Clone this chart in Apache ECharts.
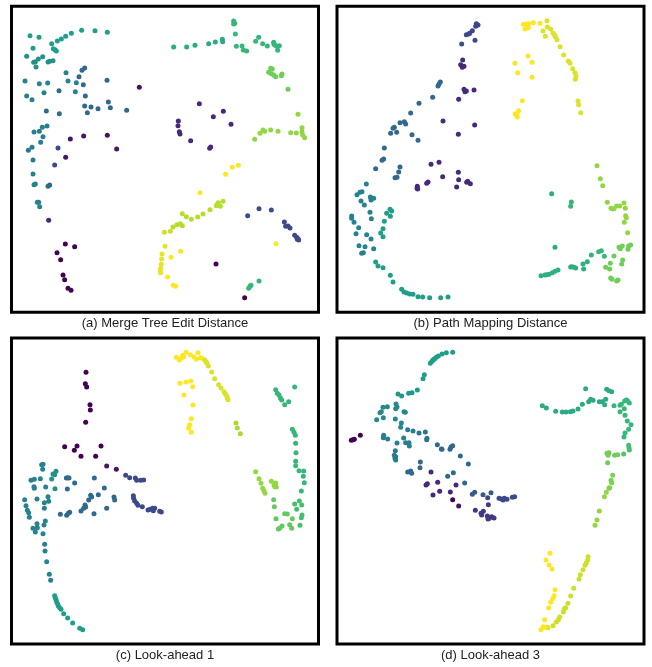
<!DOCTYPE html>
<html>
<head>
  <meta charset="utf-8">
  <style>
    html, body { margin: 0; padding: 0; background: #fff; }
    #main { width: 652px; height: 667px; }
  </style>
</head>
<body>
  <div id="main"></div>
<script src="https://cdn.jsdelivr.net/npm/echarts@6/dist/echarts.min.js"></script>
<script>
  // each point: [x, y, colour value 0..9 on viridis]
  var mergeTree = [
    [66,92,5],[93,97,5],[75,130,5],[131,116,5],[148,108,5],[160,102,5],[173,94,5],[190,85,5],[221,76,5],[261,77,5],[298,82,5],[136,131,5],[141,134,5],[145,138,5],
    [56,154,4.5],[104,155,4.5],[91,162,4.5],[82,170,4.5],[77,172,4.5],[84,186,4.5],[120,171,4.5],[125,169,4.5],[135,167,4.5],
    [174,203,4],[180,228,4],[205,233,4],[202,260,4],[51,228,4],[56,273,4],[72,284,4],[94,236,4],[119,234,4],[108,263,4],
    [222,196,3],[230,189,3],[213,215,3],[226,239,3],[232,273,3],[153,257,3],[230,303,3],[249,306,3],[270,311,3],[307,308,3],[301,291,3],[356,316,3],[238,323,3],[297,226,3],[154,326,3],[115,318,3],
    [78,381,3.8],[94,379,3.8],[103,367,3.8],[117,363,3.8],[105,395,3.8],[98,412,3.8],[72,427,3.8],[61,436,3.8],[75,465,3.8],
    [394,247,0.5],[187,402,0.5],[227,393,0.5],[298,391,0.5],[326,432,0.5],[173,457,0.5],[150,429,2],[140,480,2],
    [574,296,1],[616,335,1],[646,319,1],[669,358,1],[511,348,1],[510,362,1],[514,380,1],[516,387,1],[548,407,1],[605,430,1],[608,426,1],
    [497,126,5.5],[536,126,5.5],[561,121,5.5],[602,116,5.5],[622,111,5.5],[643,103,5.5],[644,110,5.5],
    [677,48,6],[680,55,6],[677,57,6],[682,87,6],[685,124,6],[702,123,6],[706,135,6],[716,138,6],[743,109,6],[752,97,6],[764,116,6],[778,123,6],[797,112,6],[798,118,6],[806,124,6],[814,122,6],[809,136,6],[802,121,6],
    [788,190,7],[793,192,7],[782,202,7],[790,206,7],[797,210,7],[803,215,7],[822,207,7],[820,212,7],[840,253,7],
    [870,328,7.5],[882,368,7.5],[882,380,7.5],[884,390,7.5],[890,398,7.5],[848,383,7.5],[865,384,7.5],[810,379,7.5],[788,375,7.5],[770,379,7.5],[765,375,7.5],[756,385,7.5],[740,403,7.5],
    [75,507,4],[78,539,4],[82,537,4],[88,592,4],[92,592,4],[95,605,4],[120,544,3],[125,540,3],[122,646,1],
    [172,717,0],[200,725,0],[147,743,0],[158,764,0],[165,810,0],[170,824,0],[180,850,0],[189,856,0],
    [691,481,9],[673,487,9],[653,508,9],[576,563,9],[804,716,9],[518,739,9],[489,757,9],[479,816,9],[496,841,9],[503,844,9],
    [471,724,8.7],[462,747,8.7],[461,762,8.7],[460,778,8.7],[458,790,8.7],[457,797,8.7],[458,803,8.7],[469,682,8.3],[487,679,8.3],
    [495,666,8],[507,659,8],[517,656,8],[523,662,8],[535,635,8],[523,626,8],[550,643,8],[569,636,8],[585,627,8],[606,614,8],[625,602,8],[631,593,8],[637,604,8],[645,589,8],[628,598,8],
    [719,632,2],[753,611,2],[790,615,2],[829,651,2],[833,664,2],[840,663,2],[846,669,2],[860,691,2],[866,697,2],[870,701,2],[872,705,2],[868,703,2],
    [624,777,0],[710,878,0],[753,828,6],[729,841,6],[722,850,6],[726,844,6]
  ];

  var pathMapping = [
    [430,56,2],[435,60,2],[428,64,2],[418,77,2],[410,85,2],[407,87,2],[400,89,2],[426,106,2],[386,117,2],
    [389,165,1],[383,179,1],[393,184,1],[388,187,1],
    [322,231,3],[318,237,3],[315,243,3],[299,277,3],[258,295,3],[233,324,3],[214,350,3],[218,357,3],[201,353,3],[184,367,3],[180,370,3],[173,385,3],[191,382,3],[237,389,3],[255,406,3],[154,429,3],[152,462,3],[147,466,3],
    [393,253,1],[396,260,1],[400,258,1],[423,255,1],[377,283,1],[330,348,1],[425,360,1],[376,388,1],[318,472,1],[294,478,1],
    [571,58,9],[580,57,9],[587,56,9],[583,64,9],[576,72,9],[586,68,9],[601,53,9],[621,55,9],[585,153,9],[597,172,9],[546,175,9],[554,203,9],[597,217,9],[568,287,9],[557,317,9],[547,326,9],[552,327,9],[553,336,9],[549,330,9],
    [642,47,8.5],[643,66,8.5],[630,78,8.5],[637,94,8.5],[653,72,8.5],[660,84,8.5],[665,91,8.5],[667,95,8.5],[672,104,8.5],[681,125,8.5],[692,150,8.5],[706,168,8.5],[711,175,8.5],[719,191,8.5],[726,203,8.5],[729,213,8.5],[727,223,8.5],[735,288,8.5],[737,299,8.5],[743,323,8.5],
    [128,491,3],[201,486,3],[197,501,3],[186,518,3],[192,517,3],[100,537,4],
    [329,515,1],[376,502,1],[377,524,1],[371,546,1],[401,532,1],[404,529,1],[412,536,1],[285,531,1],[281,535,1],[253,544,1],[252,550,1],[254,552,1],
    [72,569,4],[81,562,4],[87,560,4],[112,576,4],[117,580,4],[122,580,4],[114,585,4],[84,588,4],[94,600,4],[111,622,4],[56,633,4],[56,640,4],[63,652,4],[115,641,4],[77,668,4],[69,686,4],[101,689,4],[114,702,4],[78,722,4],[96,725,4],[91,743,4],[86,745,4],[122,731,4],
    [171,613,5],[176,618,5],[172,634,5],[161,625,5],[154,649,5],[150,671,5],[143,684,5],[150,695,5],[128,771,5],[135,783,5],[150,788,5],[172,811,5],[180,831,5],[206,853,5],[213,861,5],[221,864,5],[230,867,5],[240,868,5],[255,875,5],[269,876,5],[290,878,5],[323,878,5],[345,876,5],
    [656,566,5.5],[666,727,5.5],[715,591,6],[713,604,6],
    [792,482,7.5],[802,521,7.5],[809,542,7.5],[823,592,7.5],[834,610,7.5],[839,612,7.5],[843,611,7.5],[851,603,7.5],[860,603,7.5],[873,594,7.5],[877,610,7.5],[878,632,7.5],[880,638,7.5],[874,652,7.5],[884,683,7.5],
    [858,727,7],[862,731,7],[868,723,7],[885,733,7],[887,723,7],[893,720,7],[843,753,7],[869,765,7],[866,777,7],[832,775,7],[818,787,7],[830,792,7],[833,819,7],[837,823,7],[851,828,7],[855,825,7],
    [624,812,5.7],[636,810,5.7],[641,809,5.7],[648,808,5.7],[658,803,5.7],[666,799,5.7],[675,795,5.7],[713,786,5.7],[717,785,5.7],[723,787,5.7],[728,789,5.7],[752,792,5.7],[750,777,5.7],[763,770,5.7],[775,750,5.9],[797,740,6],[805,737,6],[814,754,6]
  ];

  var lookAhead1 = [
    [505,64,9],[514,72,9],[520,67,9],[524,58,9],[527,62,9],[534,49,9],[547,56,9],[558,63,9],[565,70,9],[570,50,9],[577,65,9],[583,67,9],[516,142,9],[534,138,9],[548,135,9],[554,152,9],[528,177,9],[555,207,9],[550,248,9],[545,266,9],[542,277,9],[550,289,9],
    [590,72,8.5],[594,77,8.5],[597,81,8.5],[601,90,8.5],[611,108,8.5],[620,128,8.5],[632,146,8.5],[639,156,8.5],[648,167,8.5],[652,173,8.5],[656,180,8.5],[658,186,8.5],[660,191,8.5],
    [684,261,7.8],[688,276,7.8],[697,293,7.8],
    [803,161,6],[808,172,6],[813,177,6],[817,186,6],[821,192,6],[830,206,6],[842,197,6],[860,153,6],[853,280,6],[858,289,6],[862,298,6],[863,322,6],[864,350,6],[863,376,6],[863,389,6],[873,404,6],[887,405,6],[886,421,6],[889,440,6],[880,465,6],
    [743,407,7.5],[753,428,7.5],[759,442,7.5],[764,457,7.5],[768,464,7.5],[790,436,7.5],[798,448,7.5],[801,452,7.5],[803,441,7.5],[805,453,7.5],
    [234,109,0],[232,143,0],[236,153,0],[246,206,0],[247,222,0],[233,259,0],[170,332,0],[207,330,0],[279,330,0],[199,343,0],[219,361,0],[263,361,0],[296,390,0.5],[325,400,0.5],
    [353,418,2],[365,425,2],[382,426,2],[386,433,2],[398,433,2],[407,432,2],
    [179,425,3],[175,426,3],[183,426,3],[200,441,3],[259,426,3],[289,456,3],[178,459,3],
    [101,386,4],[105,385,4],[104,400,4],[69,433,4],[79,430,4],[97,428,4],[78,452,4],[79,457,4],[113,453,4],[135,414,4.5],[144,406,4.5],[140,416,4.5],[131,429,4.5],[141,458,4.5],
    [50,491,4],[54,509,4],[58,523,4],[62,530,4],[64,544,4],[87,489,4],[109,500,4],[120,482,4],[122,496,4],[109,517,4],[75,577,4],[82,588,4],[88,575,4],[87,563,4],[108,567,4],[112,555,4],[105,593,4],[110,625,4],[111,645,4],[116,677,4],[124,715,4],[128,733,4],
    [140,779,5],[142,785,5],[144,791,5],[146,798,5],[149,804,5],[151,810,5],[155,815,5],[159,820,5],[167,833,5],[179,846,5],[194,861,5],[215,877,5],[224,881,5],
    [157,535,3],[176,538,3],[181,532,3],[185,529,3],[219,525,3],[227,517,3],[233,513,3],[231,507,3],[242,492,3],[248,478,3],[251,483,3],[271,476,3],[258,533,3],[296,517,3],[318,483,3],[320,492,3],
    [376,479,2],[377,487,2],[380,495,2],[386,502,2],[390,508,2],[403,512,2],[420,522,2],[427,520,2],[434,517,2],[440,517,2],[436,524,2],[455,526,2],[460,528,2],
    [771,472,7.5],[797,491,6.8],[799,512,6.8],[804,548,6.8],[815,577,6.8],[811,579,6.8],[822,570,6.8],[830,533,6.8],[838,534,6.8],[845,566,6.8],[851,577,6.8],[853,548,6.8],
    [860,504,6.3],[866,520,6.3],[874,495,6.3],[881,507,6.3],[882,537,6.3],[880,545,6.3],[876,568,6.3]
  ];

  var lookAhead3 = [
    [359,49,5],[340,50,5],[327,54,5],[316,60,5],[310,64,5],[303,70,5],[297,76,5],[292,82,5],[300,72,5],[305,68,5],[274,116,5],[270,128,5],[253,162,4.8],[237,170,4.8],[227,172,4.8],[206,180,4.8],[195,174,4.8],
    [189,204,4.2],[192,213,4.2],[188,218,4.2],[213,227,4.2],[217,229,4.2],[163,212,4.2],[150,214,4.2],[145,227,4.2],[141,230,4.2],[151,245,4.2],[131,251,4.2],[187,249,4.2],[205,261,4.2],[203,274,4.2],[224,281,3.8],[240,285,3.8],[258,291,3.5],[277,288,3.5],[282,307,3.5],[281,311,3.5],
    [152,298,3.8],[151,305,3.8],[164,309,3.8],[212,306,3.8],[218,320,3.8],[228,320,3.8],[229,330,3.8],[192,321,3.8],[187,344,3.8],[184,358,3.8],[188,362,3.8],[188,372,3.8],[186,367,3.8],
    [55,313,0],[60,311,0],[64,310,0],[82,298,0],
    [313,326,3],[325,339,3],[327,340,3],[351,340,3],[354,333,3],[359,329,3],[382,360,3],[406,384,3],[262,378,3],[261,395,3],[224,408,3],[233,405,3],[236,412,3],[344,421,3],[361,410,3],[395,441,3],[425,469,2.5],[450,476,2.5],[474,470,2.5],[418,475,2.5],
    [294,408,1],[283,443,1],[279,447,1],[314,439,1],[369,447,1],[320,466,1],[352,468,1],[300,477,1],
    [628,209,5.5],[640,216,5.5],[668,226,5.5],[688,228,5.5],[699,228,5.5],[712,227,5.5],[720,225,5.5],[735,219,5.5],[748,205,5.5],[758,158,5.5],[767,197,5.5],[773,190,5.5],[780,193,5.5],[799,197,5.5],[808,197,5.5],[815,206,5.5],[818,190,5.5],[821,160,5.5],[828,164,5.5],[836,167,5.5],
    [843,209,6],[861,208,6],[865,205,6],[875,195,6],[880,192,6],[884,195,6],[889,201,6],[874,218,6],[861,227,6],[876,238,6],[883,255,6],[894,266,6],[887,280,6],[876,291,6],[873,303,6],[887,328,6.3],[888,335,6.3],[889,342,6.3],[872,354,6.5],
    [828,350,7],[822,352,7],[825,358,7],[845,358,7],[854,356,7],[824,380,7],[839,418,7.2],[834,433,7.2],[836,440,7.2],[830,455,7.2],[828,457,7.2],
    [359,491,0],[377,510,0.5],
    [464,485,2],[498,487,2],[505,489,2],[510,492,2],[514,487,2],[522,490,2],[538,484,2],[545,482,2],
    [466,506,1.5],[427,523,1.5],[451,526,1.5],[444,532,1.5],[446,537,1.5],[463,540,1.5],[469,547,1.5],[465,549,1.5],[476,542,1.5],[483,546,1.5],
    [820,469,7.5],[814,482,7.5],[799,525,7.5],[792,552,7.5],[786,568,7.5],
    [765,662,8.3],[764,672,8.3],[760,680,8.3],[756,688,8.3],[750,701,8.3],[742,716,8.3],[738,729,8.3],[722,757,8.3],[713,780,8.3],[705,802,8.3],[698,815,8.3],[694,819,8.3],[691,828,8.3],[680,843,8.3],[676,851,8.3],[670,858,8.3],[660,869,8.3],[645,875,8.5],[641,874,8.5],
    [651,652,9],[639,672,9],[648,687,9],[657,699,9],[666,761,9],[663,779,9],[659,788,9],[653,799,9],[647,815,9],[635,851,9],[630,872,9],[636,874,9],[624,881,9]
  ];

  var captions = ['(a) Merge Tree Edit Distance', '(b) Path Mapping Distance', '(c) Look-ahead 1', '(d) Look-ahead 3'];
  var viridis = ['#440154', '#482878', '#3e4989', '#31688e', '#26828e', '#1f9e89', '#35b779', '#6ece58', '#b5de2b', '#fde725'];

  var panels = [
    { data: mergeTree,   left: 11.5, top: 6.3, x: [10.5, 931.5], y: [3.9, 922] },
    { data: pathMapping, left: 337,  top: 6.3, x: [12, 933],     y: [3.9, 922] },
    { data: lookAhead1,  left: 11.5, top: 338, x: [10.5, 931.5], y: [6, 924] },
    { data: lookAhead3,  left: 337,  top: 338, x: [12, 933],     y: [6, 924] }
  ];

  var chart = echarts.init(document.getElementById('main'), null, { renderer: 'canvas' });

  var grids = [], xAxes = [], yAxes = [], series = [], texts = [];
  panels.forEach(function (p, i) {
    grids.push({
      left: p.left, top: p.top, width: 307, height: 306,
      show: true, borderColor: '#000', borderWidth: 3, backgroundColor: '#fff'
    });
    xAxes.push({ gridIndex: i, type: 'value', min: p.x[0], max: p.x[1], show: false });
    yAxes.push({ gridIndex: i, type: 'value', min: p.y[0], max: p.y[1], inverse: true, show: false });
    series.push({
      type: 'scatter', xAxisIndex: i, yAxisIndex: i,
      symbolSize: 5, data: p.data, silent: true,
      itemStyle: { opacity: 1 }
    });
    texts.push({
      type: 'text',
      x: p.left + 153.5, y: p.top + 317,
      style: {
        text: captions[i], fill: '#222', fontSize: 13,
        fontFamily: '"Liberation Sans", Arial, Helvetica, sans-serif',
        textAlign: 'center', textVerticalAlign: 'middle'
      }
    });
  });

  chart.setOption({
    animation: false,
    backgroundColor: '#fff',
    grid: grids,
    xAxis: xAxes,
    yAxis: yAxes,
    visualMap: {
      show: false, type: 'continuous', dimension: 2, min: 0, max: 9,
      inRange: { color: viridis }
    },
    series: series,
    graphic: texts
  });
</script>
</body>
</html>
